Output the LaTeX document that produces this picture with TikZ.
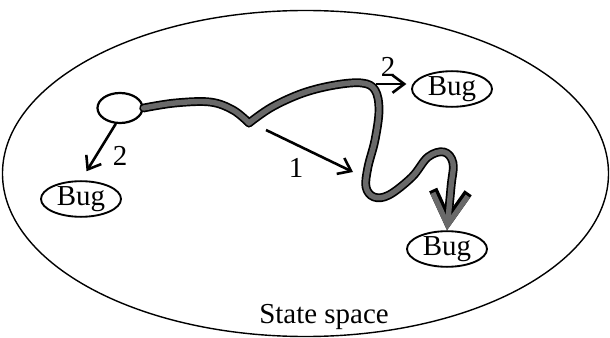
\documentclass[tikz,border=0pt]{standalone}
\usepackage{fontspec}
\setmainfont{Liberation Serif}
\usepackage{tikz}
\usetikzlibrary{arrows.meta}
\usetikzlibrary{shapes.geometric}
\definecolor{walkgray}{RGB}{105,105,105}

\begin{document}
\begin{tikzpicture}[x=0.03cm, y=-0.03cm,
  font=\fontsize{24.7}{29}\selectfont,
  bug/.style={draw, ellipse, line width=1.6pt, inner sep=0pt, minimum width=2.4cm, minimum height=1.02cm},
  jump/.style={line width=2.2pt, -{Straight Barb[length=10pt, width=15pt]}}
]

\useasboundingbox (0,0) rectangle (610,338);
\draw[line width=1.2pt] (305.5,173.5) ellipse (9.09cm and 4.89cm);

\node[draw, ellipse, line width=1.9pt, inner sep=0pt, minimum width=1.35cm, minimum height=0.9cm] (start) at (120,108) {};
\node[bug] (bugleft) at (81,199) {Bug};
\node[bug] (bugtop) at (452,89) {Bug};
\node[bug] (bugend) at (447,249) {Bug};
\node[anchor=base] (space) at (324,323) {State space};

\node (twoleft) at (120,156) {2};
\node (one) at (296,168) {1};
\node (twotop) at (388,67) {2};

\coordinate (hop) at (266,130);
\coordinate (land) at (353,172);
\coordinate (peek) at (376,84);

\draw[jump, shorten >=9pt] (start.255) -- (bugleft.north);
\draw[jump] (hop) -- (land);
\draw[jump, shorten >=4pt] (peek) -- (peek -| bugtop.west);

% random walk through the state space
\foreach \w/\c in {7.5pt/black, 4.6pt/walkgray}{
  \draw[line width=\w, color=\c, line cap=round, line join=round]
    plot[smooth, tension=0.6] coordinates {(start.east) (175,103) (210,102) (233,110) (249,123)};
  \draw[line width=\w, color=\c, line cap=round, line join=round, -{Straight Barb[length=26pt, width=30pt]}]
    plot[smooth, tension=0.6] coordinates {(249,123) (272,107) (303,93) (335,85) (362,83) (375,90) (379,110)
      (375,140) (368,167) (366,187) (374,197) (389,195) (412,177) (428,157) (444,152) (453,163) (451,187) (bugend.north)};
}
\end{tikzpicture}
\end{document}
